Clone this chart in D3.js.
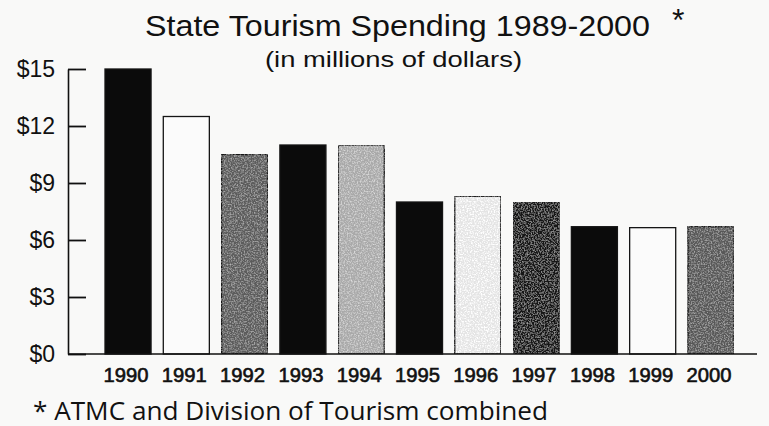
<!DOCTYPE html>
<html>
<head>
<meta charset="utf-8">
<script src="https://cdn.jsdelivr.net/npm/d3@7"></script>
<style>
  html, body { margin: 0; padding: 0; background: #f9f9f8; }
  svg { display: block; }
</style>
</head>
<body>
<svg id="chart" width="769" height="426"></svg>
<script>
// ---- data ----
const years = ["1990","1991","1992","1993","1994","1995","1996","1997","1998","1999","2000"];
const spending = [15, 12.5, 10.5, 11, 11, 8, 8.3, 8, 6.7, 6.65, 6.7];
const yTicks = [0, 3, 6, 9, 12, 15];
const titleText = "State Tourism Spending 1989-2000";
const subtitleText = "(in millions of dollars)";
const footnoteText = "* ATMC and Division of Tourism combined";

// ---- styles ----
const barFills = ["#0b0b0b","#fbfbfb","#5c5c5c","#0b0b0b","#a9a9a9","#0b0b0b","#e4e4e4","#141414","#0b0b0b","#fbfbfb","#585858"];
const textured = [false,false,true,false,true,false,true,true,false,false,true];

const svg = d3.select("#chart");
const sans = "'Liberation Sans', Arial, Helvetica, sans-serif";

// noise texture filter
const defs = svg.append("defs");
const f = defs.append("filter").attr("id","grain")
  .attr("filterUnits","objectBoundingBox")
  .attr("x","0").attr("y","0").attr("width","1").attr("height","1");
f.append("feTurbulence").attr("type","fractalNoise").attr("baseFrequency","0.7").attr("numOctaves","2").attr("seed","3").attr("result","noise");
f.append("feColorMatrix").attr("in","noise").attr("type","matrix")
  .attr("values","0 0 0 0 1  0 0 0 0 1  0 0 0 0 1  0 0 0 -2.2 1.25").attr("result","spots");
f.append("feComposite").attr("in","spots").attr("in2","SourceGraphic").attr("operator","in").attr("result","spotsIn");
f.append("feComposite").attr("in","spotsIn").attr("in2","SourceGraphic").attr("operator","arithmetic")
  .attr("k1","0").attr("k2","0.35").attr("k3","1").attr("k4","0");

const x = d3.scaleBand().domain(years).range([105, 734]).paddingInner(0.21).paddingOuter(0);
const y = d3.scaleLinear().domain([0, 15]).range([354, 69]);

// bars
svg.append("g").selectAll("rect")
  .data(years.map((yr, i) => ({ yr, v: spending[i], i })))
  .join("rect")
  .attr("x", d => x(d.yr))
  .attr("y", d => y(d.v))
  .attr("width", x.bandwidth())
  .attr("height", d => y(0) - y(d.v))
  .attr("fill", d => barFills[d.i])
  .attr("stroke", "#151515")
  .attr("stroke-width", 1.3)
  .attr("filter", d => textured[d.i] ? "url(#grain)" : null);

// y axis
const yAxis = d3.axisLeft(y)
  .tickValues(yTicks)
  .tickFormat(d => "$" + d)
  .tickSizeInner(-18)
  .tickSizeOuter(0)
  .tickPadding(13);
const gy = svg.append("g").attr("transform", "translate(68,0)").call(yAxis);
gy.select(".domain").attr("stroke", "#111").attr("stroke-width", 1.6);
gy.selectAll(".tick line").attr("stroke", "#111").attr("stroke-width", 1.8);
gy.selectAll(".tick text")
  .attr("font-family", sans)
  .attr("font-size", 23)
  .attr("fill", "#111");

// x axis (baseline + year labels)
const xAxis = d3.axisBottom(x).tickSize(0).tickSizeOuter(0);
const gx = svg.append("g").attr("transform", "translate(0,354)").call(xAxis);
gx.select(".domain").remove();
gx.selectAll(".tick text")
  .attr("y", 28)
  .attr("dy", null)
  .attr("dx", -2)
  .attr("textLength", 45)
  .attr("lengthAdjust", "spacingAndGlyphs")
  .attr("font-family", sans)
  .attr("font-size", 19.5)
  .attr("stroke", "#111")
  .attr("stroke-width", 0.6)
  .attr("fill", "#111");
svg.append("line")
  .attr("x1", 68).attr("x2", 757)
  .attr("y1", y(0)).attr("y2", y(0))
  .attr("stroke", "#111").attr("stroke-width", 1.6);

// titles
svg.append("text")
  .attr("x", 145).attr("y", 36)
  .attr("textLength", 505).attr("lengthAdjust", "spacingAndGlyphs")
  .attr("font-family", sans)
  .attr("font-size", 29).attr("fill", "#111")
  .text(titleText);
svg.append("text")
  .attr("x", 672).attr("y", 31)
  .attr("font-family", sans)
  .attr("font-size", 32).attr("fill", "#111")
  .text("*");
svg.append("text")
  .attr("x", 265).attr("y", 67)
  .attr("textLength", 257).attr("lengthAdjust", "spacingAndGlyphs")
  .attr("font-family", sans)
  .attr("font-size", 22).attr("fill", "#111")
  .text(subtitleText);

// footnote
svg.append("text")
  .attr("x", 33).attr("y", 420)
  .attr("textLength", 515).attr("lengthAdjust", "spacingAndGlyphs")
  .attr("font-family", "'Open Sans', 'Noto Sans', sans-serif")
  .attr("font-size", 25.5).attr("fill", "#111")
  .text(footnoteText);
</script>
</body>
</html>
